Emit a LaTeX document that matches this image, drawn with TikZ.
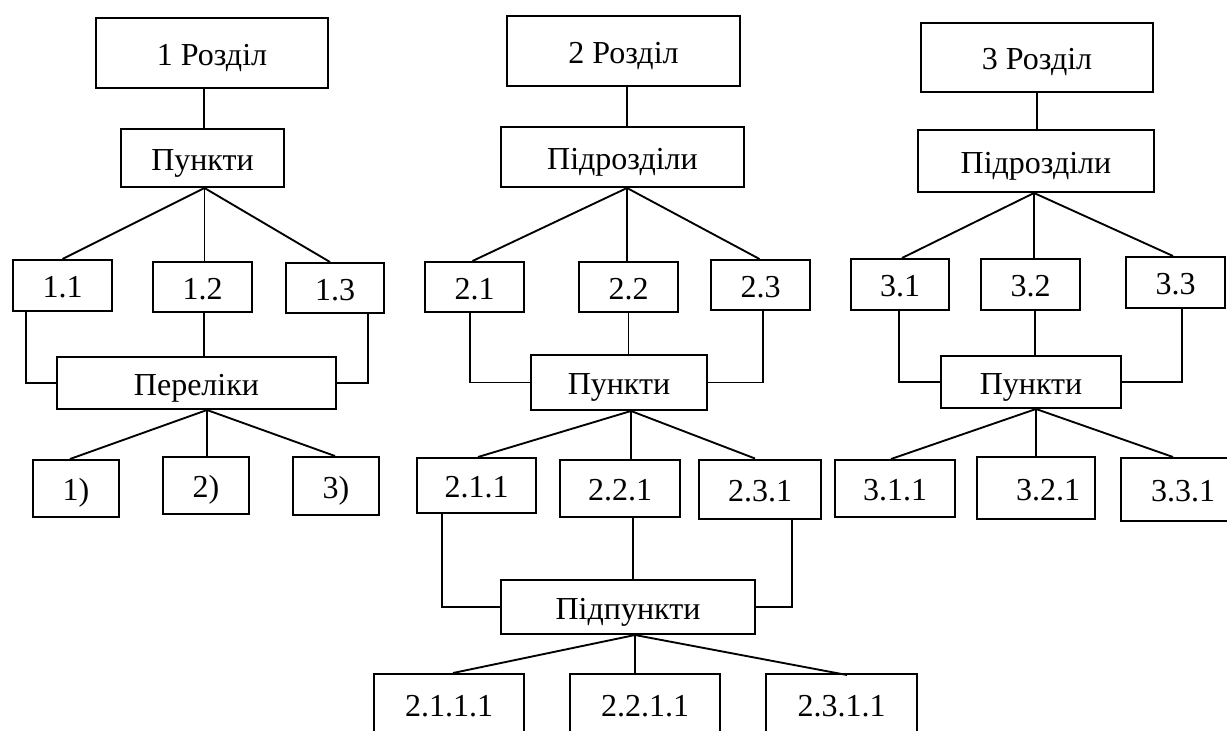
\documentclass[tikz,border=0pt]{standalone}
\usepackage{fontspec}
\setmainfont{Liberation Serif}
\usetikzlibrary{calc}
\begin{document}
\begin{tikzpicture}[x=0.75pt,y=-0.75pt,
  bx/.style 2 args={draw, line width=1.5pt, inner sep=0pt,
    minimum width=#1*0.75pt, minimum height=#2*0.75pt,
    text height=18.5pt, text depth=0pt,
    font=\fontsize{24}{28}\selectfont},
  ln/.style={line width=1.4pt}]
\useasboundingbox (0,0) rectangle (1227,731);
\clip (0,0) rectangle (1227,731);

% ---------- group 1 ----------
\node[bx={232}{70}] (A1) at (212,53) {1 Розділ};
\node[bx={163}{58}] (B1) at (202.5,158) {Пункти};
\node[bx={99}{51}] (C11) at (62.5,285.5) {1.1};
\node[bx={99}{50}] (C12) at (202.5,287) {1.2};
\node[bx={98}{50}] (C13) at (335,288) {1.3};
\node[bx={279}{52}] (D1) at (196.5,383) {Переліки};
\node[bx={86}{57}] (E11) at (76,488.5) {1)};
\node[bx={86}{57}] (E12) at (206,485.5) {2)};
\node[bx={86}{58}] (E13) at (336,486) {3)};

\coordinate (t1) at ($(B1.north)+(1.5,0)$);
\draw[ln] (t1) -- (t1 |- A1.south);
\coordinate (p1) at ($(B1.south)+(2,0)$);
\draw[ln] (C11.north) -- (p1) -- ($(C13.north)+(-5,0)$);
\draw[ln] (p1) -- (p1 |- C12.north);
\draw[ln] ($(C11.south)+(-36.5,0)$) |- (D1.west);
\coordinate (u1) at ($(C12.south)+(1.5,0)$);
\draw[ln] (u1) -- (u1 |- D1.north);
\draw[ln] ($(C13.south)+(33,0)$) |- (D1.east);
\coordinate (q1) at ($(D1.south)+(10.5,0)$);
\draw[ln] ($(E11.north)+(-6,0)$) -- (q1) -- ($(E13.north)+(-1,0)$);
\draw[ln] (q1) -- (q1 |- E12.north);

% ---------- group 2 ----------
\node[bx={233}{70}] (A2) at (623.5,51) {2 Розділ};
\node[bx={243}{60}] (B2) at (622.5,157) {Підрозділи};
\node[bx={99}{50}] (C21) at (474.5,287) {2.1};
\node[bx={99}{50}] (C22) at (628.5,287) {2.2};
\node[bx={99}{50}] (C23) at (760.5,285) {2.3};
\node[bx={176}{55}] (D2) at (619,382.5) {Пункти};
\node[bx={119}{55}] (E21) at (476.5,485.5) {2.1.1};
\node[bx={120}{57}] (E22) at (620,488.5) {2.2.1};
\node[bx={122}{59}] (E23) at (760,489) {2.3.1};
\node[bx={254}{54}] (F2) at (628,607) {Підпункти};
\node[bx={150}{60}] (G21) at (449,704) {2.1.1.1};
\node[bx={150}{60}] (G22) at (645,704) {2.2.1.1};
\node[bx={151}{60}] (G23) at (841.5,704) {2.3.1.1};

\coordinate (t2) at ($(B2.north)+(4.5,0)$);
\draw[ln] (t2) -- (t2 |- A2.south);
\coordinate (p2) at ($(B2.south)+(4.5,0)$);
\draw[ln] ($(C21.north)+(-2,0)$) -- (p2) -- ($(C23.north)+(-1,0)$);
\draw[ln] (p2) -- (p2 |- C22.north);
\draw[ln] ($(C21.south)+(-4.5,0)$) |- (D2.west);
\draw[ln] (C22.south) -- (C22.south |- D2.north);
\draw[ln] ($(C23.south)+(2.5,0)$) |- (D2.east);
\coordinate (q2) at ($(D2.south)+(12,0)$);
\draw[ln] ($(E21.north)+(1.5,0)$) -- (q2) -- ($(E23.north)+(-5,0)$);
\draw[ln] (q2) -- (q2 |- E22.north);
\draw[ln] ($(E21.south)+(-34.5,0)$) |- (F2.west);
\coordinate (r2) at ($(E22.south)+(13,0)$);
\draw[ln] (r2) -- (r2 |- F2.north);
\draw[ln] ($(E23.south)+(32,0)$) |- (F2.east);
\coordinate (s2) at ($(F2.south)+(7,0)$);
\draw[ln] ($(G21.north)+(4,0)$) -- (s2) -- ($(G23.north)+(5.5,2)$);
\draw[ln] (s2) -- (s2 |- G22.north);

% ---------- group 3 ----------
\node[bx={232}{69}] (A3) at (1037,57.5) {3 Розділ};
\node[bx={236}{62}] (B3) at (1036,161) {Підрозділи};
\node[bx={98}{51}] (C31) at (900,284.5) {3.1};
\node[bx={99}{51}] (C32) at (1030.5,284.5) {3.2};
\node[bx={99}{51}] (C33) at (1175.5,282.5) {3.3};
\node[bx={180}{52}] (D3) at (1031,382) {Пункти};
\node[bx={120}{57}] (E31) at (895,488.5) {3.1.1};
\node[bx={118}{62}] (E32) at (1036,488) {\hspace*{18pt}3.2.1};
\node[bx={124}{63}] (E33) at (1183,489.5) {3.3.1};

\coordinate (t3) at ($(B3.north)+(1,0)$);
\draw[ln] (t3) -- (t3 |- A3.south);
\coordinate (p3) at ($(B3.south)+(-2,0)$);
\draw[ln] ($(C31.north)+(2,0)$) -- (p3) -- ($(C33.north)+(-2.5,0)$);
\draw[ln] (p3) -- (p3 |- C32.north);
\draw[ln] ($(C31.south)+(-1,0)$) |- (D3.west);
\coordinate (u3) at ($(C32.south)+(4.5,0)$);
\draw[ln] (u3) -- (u3 |- D3.north);
\draw[ln] ($(C33.south)+(6.5,0)$) |- (D3.east);
\coordinate (q3) at ($(D3.south)+(5,0)$);
\draw[ln] ($(E31.north)+(-4,0)$) -- (q3) -- ($(E33.north)+(-10,0)$);
\draw[ln] (q3) -- (q3 |- E32.north);
\end{tikzpicture}
\end{document}
